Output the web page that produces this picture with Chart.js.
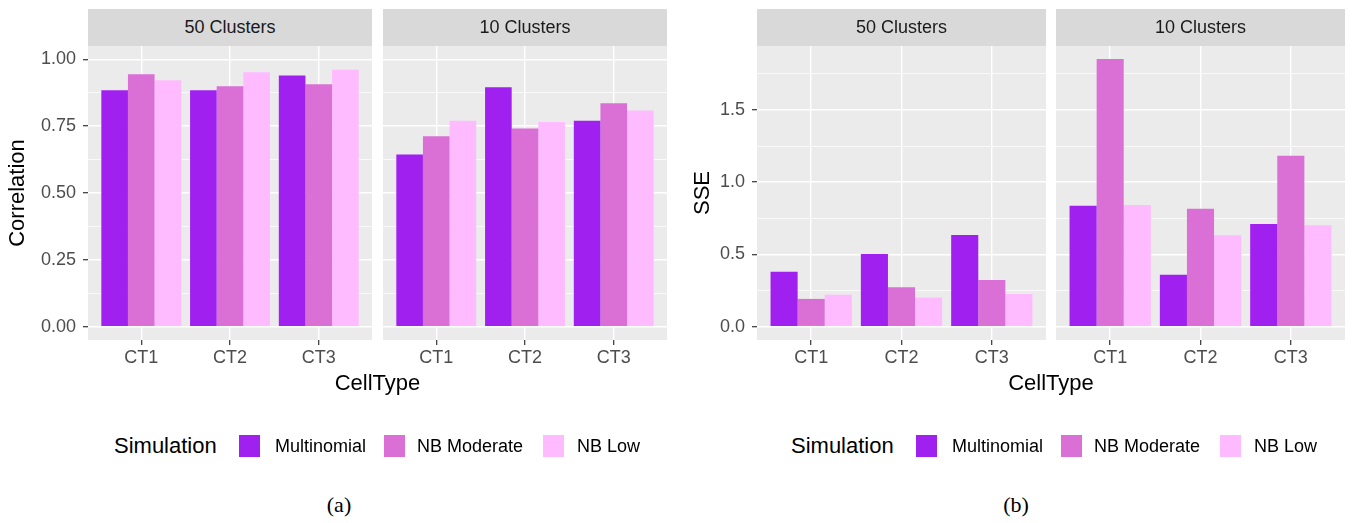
<!DOCTYPE html>
<html><head><meta charset="utf-8">
<script src="https://cdn.jsdelivr.net/npm/chart.js@4.4.1/dist/chart.umd.min.js"></script>
<style>
body{margin:0;width:1352px;height:523px;background:#fff;position:relative;overflow:hidden;font-family:"Liberation Sans",Arial,sans-serif;}
canvas{position:absolute;}
.strip{position:absolute;top:9px;height:37px;background:#D9D9D9;color:#1A1A1A;font-size:18px;display:flex;align-items:center;justify-content:center;white-space:nowrap;}
.xtitle{position:absolute;top:383px;font-size:22px;color:#000;transform:translate(-50%,-50%);white-space:nowrap;}
.legtitle{position:absolute;top:446px;font-size:22px;color:#000;transform:translateY(-50%);white-space:nowrap;}
.legkey{position:absolute;top:435px;width:21px;height:22px;}
.leglab{position:absolute;top:446px;font-size:18px;color:#000;transform:translateY(-50%);white-space:nowrap;}
.cap{position:absolute;top:505px;font-family:"Liberation Serif","DejaVu Serif",serif;font-size:22px;color:#000;transform:translate(-50%,-50%);}
</style>
</head><body>
<script>
// ---------- data ----------
const categories = ['CT1', 'CT2', 'CT3'];
const seriesNames = ['Multinomial', 'NB Moderate', 'NB Low'];
const facetNames = ['50 Clusters', '10 Clusters'];

const corr50Multinomial = [0.884, 0.884, 0.940];
const corr50NBModerate  = [0.944, 0.899, 0.907];
const corr50NBLow       = [0.922, 0.952, 0.961];
const corr10Multinomial = [0.644, 0.896, 0.770];
const corr10NBModerate  = [0.712, 0.741, 0.836];
const corr10NBLow       = [0.770, 0.766, 0.809];

const sse50Multinomial = [0.380, 0.503, 0.634];
const sse50NBModerate  = [0.192, 0.272, 0.323];
const sse50NBLow       = [0.221, 0.201, 0.226];
const sse10Multinomial = [0.837, 0.360, 0.710];
const sse10NBModerate  = [1.853, 0.816, 1.183];
const sse10NBLow       = [0.842, 0.632, 0.701];

const corrMajorTicks = [0, 0.25, 0.5, 0.75, 1.0];
const corrMinorTicks = [0.125, 0.375, 0.625, 0.875];
const sseMajorTicks = [0, 0.5, 1.0, 1.5];
const sseMinorTicks = [0.25, 0.75, 1.25, 1.75];

const seriesColors = ['#A020F0', '#DA70D6', '#FFBBFF'];

// ---------- helpers ----------
const panelBg = {
  id: 'panelBg',
  beforeDraw(chart) {
    const {ctx, chartArea: a} = chart;
    ctx.save();
    ctx.fillStyle = '#EBEBEB';
    ctx.fillRect(a.left, a.top, a.right - a.left, a.bottom - a.top);
    ctx.restore();
  }
};

function addCanvas(left, top, w, h) {
  const c = document.createElement('canvas');
  c.width = w; c.height = h;
  c.style.left = left + 'px'; c.style.top = top + 'px';
  c.style.width = w + 'px'; c.style.height = h + 'px';
  document.body.appendChild(c);
  return c;
}

function makeFacet(cfg) {
  const padTop = 25, xAxisH = 40;
  const panelTop = 46, panelBottom = 340;
  const canvasLeft = cfg.panelLeft - cfg.yWidth;
  const w = cfg.panelRight - canvasLeft;
  const h = padTop + (panelBottom - panelTop) + xAxisH;
  const canvas = addCanvas(canvasLeft, panelTop - padTop, w, h);
  const datasets = cfg.series.map((vals, s) => ({
    label: seriesNames[s],
    data: vals.map((v, i) => ({x: i + 1, y: v})),
    backgroundColor: seriesColors[s],
    borderWidth: 0,
    barPercentage: 1.0,
    categoryPercentage: 0.9
  }));
  const allY = cfg.major.concat(cfg.minor).sort((a, b) => a - b);
  new Chart(canvas, {
    type: 'bar',
    data: {datasets},
    plugins: [panelBg],
    options: {
      responsive: false,
      animation: false,
      events: [],
      layout: {padding: {top: padTop, left: 0, right: 0, bottom: 0}},
      plugins: {legend: {display: false}, tooltip: {enabled: false}},
      scales: {
        x: {
          type: 'linear',
          min: 0.4, max: 3.6,
          offset: false,
          afterBuildTicks: sc => { sc.ticks = categories.map((c, i) => ({value: i + 1})); },
          afterFit: sc => { sc.height = xAxisH; },
          border: {display: false},
          grid: {offset: false, color: '#FFFFFF', lineWidth: 1.4, tickColor: '#333333', tickWidth: 1.2, tickLength: 5},
          ticks: {
            padding: 2, color: '#4D4D4D', maxRotation: 0, autoSkip: false,
            font: {family: 'Liberation Sans', size: 18},
            callback: v => categories[Math.round(v) - 1]
          }
        },
        y: {
          type: 'linear',
          min: cfg.yMin, max: cfg.yMax,
          afterBuildTicks: sc => { sc.ticks = allY.map(v => ({value: v, isMinor: cfg.minor.includes(v)})); },
          afterFit: sc => { sc.width = cfg.yWidth; },
          border: {display: false},
          grid: {
            color: '#FFFFFF',
            lineWidth: ctx => (ctx.tick && ctx.tick.isMinor) ? 0.7 : 1.4,
            drawTicks: cfg.showY,
            tickLength: 5,
            tickWidth: 1.2,
            tickColor: ctx => (ctx.tick && ctx.tick.isMinor) ? 'rgba(0,0,0,0)' : '#333333'
          },
          ticks: {
            display: cfg.showY,
            padding: 7, color: '#4D4D4D', autoSkip: false,
            font: {family: 'Liberation Sans', size: 18},
            callback: (v, i, ticks) => ticks[i].isMinor ? '' : v.toFixed(cfg.decimals)
          },
          title: {
            display: cfg.showY && !!cfg.title,
            text: cfg.title || '',
            color: '#000000',
            font: {family: 'Liberation Sans', size: 22},
            padding: {top: cfg.titlePad || 0, bottom: 0}
          }
        }
      }
    }
  });
}

function addDiv(cls, text, style) {
  const d = document.createElement('div');
  d.className = cls;
  d.textContent = text;
  Object.assign(d.style, style || {});
  document.body.appendChild(d);
  return d;
}

// ---------- panel (a): Correlation ----------
makeFacet({panelLeft: 88, panelRight: 372, yWidth: 88, showY: true, title: 'Correlation', titlePad: 5,
  yMin: -0.05, yMax: 1.05, major: corrMajorTicks, minor: corrMinorTicks, decimals: 2,
  series: [corr50Multinomial, corr50NBModerate, corr50NBLow]});
makeFacet({panelLeft: 383, panelRight: 667, yWidth: 0, showY: false,
  yMin: -0.05, yMax: 1.05, major: corrMajorTicks, minor: corrMinorTicks, decimals: 2,
  series: [corr10Multinomial, corr10NBModerate, corr10NBLow]});

// ---------- panel (b): SSE ----------
makeFacet({panelLeft: 757, panelRight: 1046, yWidth: 70, showY: true, title: 'SSE', titlePad: 3,
  yMin: -0.0925, yMax: 1.9425, major: sseMajorTicks, minor: sseMinorTicks, decimals: 1,
  series: [sse50Multinomial, sse50NBModerate, sse50NBLow]});
makeFacet({panelLeft: 1056, panelRight: 1345, yWidth: 0, showY: false,
  yMin: -0.0925, yMax: 1.9425, major: sseMajorTicks, minor: sseMinorTicks, decimals: 1,
  series: [sse10Multinomial, sse10NBModerate, sse10NBLow]});

// ---------- strips ----------
[[88, 372], [383, 667], [757, 1046], [1056, 1345]].forEach((p, i) => {
  addDiv('strip', facetNames[i % 2], {left: p[0] + 'px', width: (p[1] - p[0]) + 'px'});
});

// ---------- x titles ----------
addDiv('xtitle', 'CellType', {left: '377.5px'});
addDiv('xtitle', 'CellType', {left: '1051px'});

// ---------- legends ----------
[0, 677].forEach(off => {
  addDiv('legtitle', 'Simulation', {left: (114 + off) + 'px'});
  const keyX = [239, 384, 543];
  const labX = [275, 417, 577];
  seriesNames.forEach((n, i) => {
    addDiv('legkey', '', {left: (keyX[i] + off) + 'px', background: seriesColors[i]});
    addDiv('leglab', n, {left: (labX[i] + off) + 'px'});
  });
});

// ---------- captions ----------
addDiv('cap', '(a)', {left: '339px'});
addDiv('cap', '(b)', {left: '1016px'});
</script>
</body></html>
